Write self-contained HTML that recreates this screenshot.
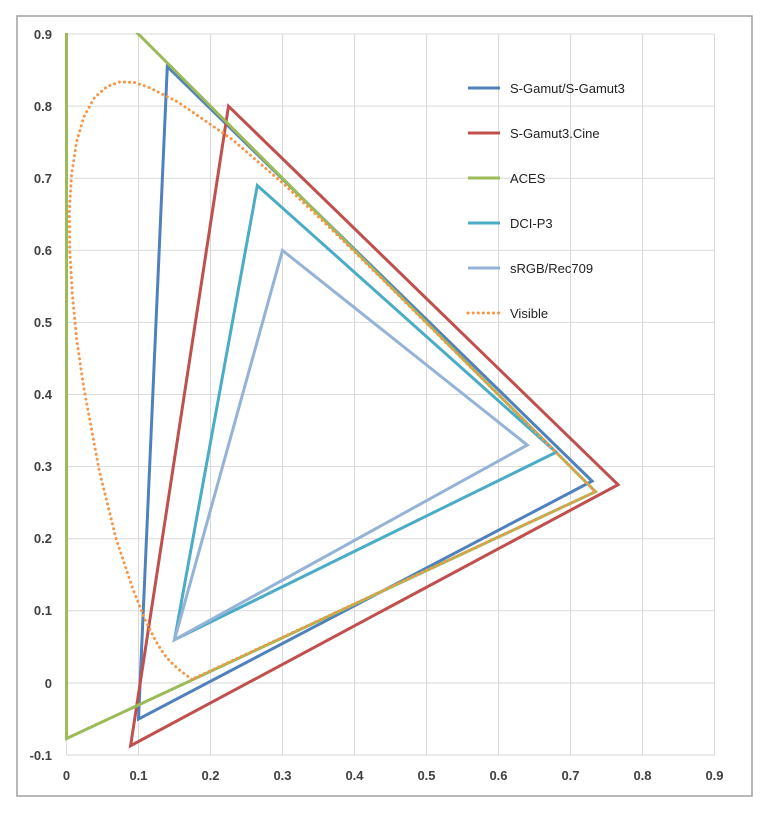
<!DOCTYPE html>
<html><head><meta charset="utf-8"><style>
html,body{margin:0;padding:0;background:#fff;}
svg{display:block;font-family:"Liberation Sans",sans-serif;}
</style></head><body>
<svg width="772" height="817" viewBox="0 0 772 817" xmlns="http://www.w3.org/2000/svg">
<rect x="17" y="16" width="735" height="780" fill="#fff" stroke="#a0a0a0" stroke-width="1.5"/>
<g stroke="#d9d9d9" stroke-width="1">
<line x1="66.5" y1="34" x2="714.5" y2="34"/><line x1="66.5" y1="106.1" x2="714.5" y2="106.1"/>
<line x1="66.5" y1="178.2" x2="714.5" y2="178.2"/><line x1="66.5" y1="250.3" x2="714.5" y2="250.3"/>
<line x1="66.5" y1="322.4" x2="714.5" y2="322.4"/><line x1="66.5" y1="394.5" x2="714.5" y2="394.5"/>
<line x1="66.5" y1="466.6" x2="714.5" y2="466.6"/><line x1="66.5" y1="538.7" x2="714.5" y2="538.7"/>
<line x1="66.5" y1="610.8" x2="714.5" y2="610.8"/><line x1="66.5" y1="683" x2="714.5" y2="683"/>
<line x1="66.5" y1="755" x2="714.5" y2="755"/>
<line x1="66.5" y1="34" x2="66.5" y2="755"/><line x1="138.5" y1="34" x2="138.5" y2="755"/>
<line x1="210.5" y1="34" x2="210.5" y2="755"/><line x1="282.5" y1="34" x2="282.5" y2="755"/>
<line x1="354.5" y1="34" x2="354.5" y2="755"/><line x1="426.5" y1="34" x2="426.5" y2="755"/>
<line x1="498.5" y1="34" x2="498.5" y2="755"/><line x1="570.5" y1="34" x2="570.5" y2="755"/>
<line x1="642.5" y1="34" x2="642.5" y2="755"/><line x1="714.5" y1="34" x2="714.5" y2="755"/>
</g>
<g fill="#404040" font-size="13" font-weight="bold" text-anchor="end">
<text x="52" y="39">0.9</text><text x="52" y="111">0.8</text><text x="52" y="183">0.7</text>
<text x="52" y="255">0.6</text><text x="52" y="327">0.5</text><text x="52" y="399">0.4</text>
<text x="52" y="471">0.3</text><text x="52" y="543">0.2</text><text x="52" y="615">0.1</text>
<text x="52" y="688">0</text><text x="52" y="760">-0.1</text>
</g>
<g fill="#404040" font-size="13" font-weight="bold" text-anchor="middle">
<text x="66.5" y="780">0</text><text x="138.5" y="780">0.1</text><text x="210.5" y="780">0.2</text>
<text x="282.5" y="780">0.3</text><text x="354.5" y="780">0.4</text><text x="426.5" y="780">0.5</text>
<text x="498.5" y="780">0.6</text><text x="570.5" y="780">0.7</text><text x="642.5" y="780">0.8</text>
<text x="714.5" y="780">0.9</text>
</g>
<defs><clipPath id="c"><rect x="60" y="33" width="660" height="725"/></clipPath></defs>
<g clip-path="url(#c)" fill="none" stroke-width="3" stroke-linejoin="miter">
<g transform="translate(66.5,683) scale(720,-721)">
<polygon vector-effect="non-scaling-stroke" stroke="#4f81bd" stroke-width="3" points="0.730,0.280 0.140,0.855 0.100,-0.050"/>
<polygon vector-effect="non-scaling-stroke" stroke="#c0504d" stroke-width="3" points="0.766,0.275 0.225,0.800 0.089,-0.087"/>
<polygon vector-effect="non-scaling-stroke" stroke="#9bbb59" stroke-width="3" points="0.7347,0.2653 0,1 0.0001,-0.0770"/>
<polygon vector-effect="non-scaling-stroke" stroke="#4bacc6" stroke-width="3" points="0.680,0.320 0.265,0.690 0.150,0.060"/>
<polygon vector-effect="non-scaling-stroke" stroke="#95b3d7" stroke-width="3" points="0.640,0.330 0.300,0.600 0.150,0.060"/>
<polyline vector-effect="non-scaling-stroke" stroke="#f79646" stroke-width="3" stroke-dasharray="0.1,5" stroke-linecap="round" stroke-linejoin="round" points="0.1741,0.0050 0.1580,0.0170 0.1440,0.0297 0.1355,0.0399 0.1241,0.0578 0.1096,0.0868 0.0913,0.1327 0.0687,0.2007 0.0454,0.2950 0.0235,0.4127 0.0140,0.4780 0.0082,0.5384 0.0045,0.6000 0.0039,0.6548 0.0070,0.7050 0.0139,0.7502 0.0240,0.7850 0.0389,0.8120 0.0560,0.8270 0.0743,0.8338 0.0940,0.8330 0.1142,0.8262 0.1547,0.8059 0.2296,0.7543 0.3016,0.6923 0.3731,0.6245 0.4441,0.5547 0.5125,0.4866 0.5752,0.4242 0.6270,0.3725 0.6915,0.3083 0.7190,0.2809 0.7347,0.2653 0.1741,0.0050"/>
</g>
</g>
<g font-size="13" fill="#222">
<line x1="468" y1="88" x2="500" y2="88" stroke="#4f81bd" stroke-width="3"/><text x="510" y="93">S-Gamut/S-Gamut3</text>
<line x1="468" y1="133" x2="500" y2="133" stroke="#c0504d" stroke-width="3"/><text x="510" y="138">S-Gamut3.Cine</text>
<line x1="468" y1="178" x2="500" y2="178" stroke="#9bbb59" stroke-width="3"/><text x="510" y="183">ACES</text>
<line x1="468" y1="223" x2="500" y2="223" stroke="#4bacc6" stroke-width="3"/><text x="510" y="228">DCI-P3</text>
<line x1="468" y1="268" x2="500" y2="268" stroke="#95b3d7" stroke-width="3"/><text x="510" y="273">sRGB/Rec709</text>
<line x1="468" y1="313" x2="500" y2="313" stroke="#f79646" stroke-width="3" stroke-dasharray="0.1,5" stroke-linecap="round"/><text x="510" y="318">Visible</text>
</g>
</svg>
</body></html>
